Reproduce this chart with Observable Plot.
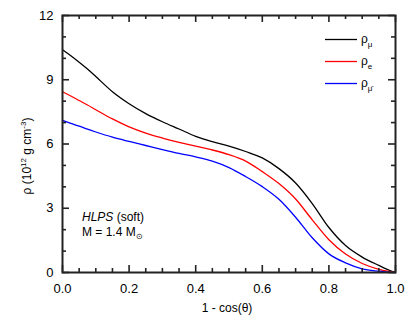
<!DOCTYPE html>
<html><head><meta charset="utf-8">
<script src="https://cdn.jsdelivr.net/npm/d3@7"></script>
<script src="https://cdn.jsdelivr.net/npm/@observablehq/plot@0.6"></script>
<style>body{margin:0;background:#fff} svg{display:block}</style>
</head><body><div id="chart"></div>
<script>
// 1 - cos(theta)
const xs = [0, 0.025, 0.05, 0.075, 0.1, 0.15, 0.2, 0.25, 0.3, 0.35, 0.4, 0.45, 0.5, 0.55, 0.6, 0.65, 0.7, 0.75, 0.8, 0.85, 0.9, 0.95, 0.975, 1.0];
// density, 10^12 g cm^-3
const rhoMu    = [10.40, 10.12, 9.82, 9.50, 9.15, 8.44, 7.88, 7.42, 7.04, 6.70, 6.36, 6.11, 5.90, 5.65, 5.35, 4.85, 4.18, 3.22, 2.10, 1.26, 0.72, 0.33, 0.15, 0];
const rhoE     = [8.44, 8.24, 8.03, 7.82, 7.60, 7.17, 6.80, 6.51, 6.28, 6.08, 5.90, 5.72, 5.50, 5.20, 4.71, 4.15, 3.43, 2.46, 1.53, 0.86, 0.42, 0.15, 0.06, 0];
const rhoMuBar = [7.10, 6.96, 6.83, 6.69, 6.56, 6.32, 6.12, 5.93, 5.74, 5.56, 5.40, 5.20, 4.90, 4.48, 4.01, 3.42, 2.58, 1.62, 0.87, 0.45, 0.17, 0.06, 0.02, 0];
const seriesKeys = ["mu", "e", "mubar"];
const seriesSubs = ["μ", "e", "μ̄"];
const seriesColors = ["#000000", "#ff0000", "#0000ff"];
const xMajor = [0, 0.2, 0.4, 0.6, 0.8, 1.0];
const xMinor = [0.05, 0.1, 0.15, 0.25, 0.3, 0.35, 0.45, 0.5, 0.55, 0.65, 0.7, 0.75, 0.85, 0.9, 0.95];
const yMajor = [0, 3, 6, 9, 12];
const yMinor = [1, 2, 4, 5, 7, 8, 10, 11];

const data = [];
[rhoMu, rhoE, rhoMuBar].forEach((arr, k) =>
  arr.forEach((v, i) => data.push({x: xs[i], y: v, s: seriesKeys[k]})));

const W = 415, H = 320, mL = 62, mR = 20, mT = 15, mB = 48;
const pw = W - mL - mR, ph = H - mT - mB;
const ink = "#222";
const font = "'Liberation Sans', Arial, Helvetica, sans-serif";
const tickStyle = {stroke: ink, strokeWidth: 1.6};
const MAJ = 7, MIN = 4;

const svg = Plot.plot({
  width: W, height: H,
  marginLeft: mL, marginRight: mR, marginTop: mT, marginBottom: mB,
  style: {fontFamily: font, fontSize: "13px", color: "#000", background: "#fff"},
  x: {domain: [0, 1]},
  y: {domain: [0, 12]},
  color: {domain: seriesKeys, range: seriesColors},
  marks: [
    Plot.line(data, {x: "x", y: "y", z: "s", stroke: "s", strokeWidth: 1.3, curve: "monotone-x"}),
    // tick labels
    Plot.axisX(xMajor, {anchor: "bottom", tickSize: 0, tickPadding: 11, tickFormat: d3.format(".1f"), label: null, stroke: "none", fontSize: 13}),
    Plot.axisY(yMajor, {anchor: "left", tickSize: 0, tickPadding: 9, tickFormat: d3.format("d"), label: null, stroke: "none", fontSize: 13}),
    // inward ticks on all four sides
    Plot.tickX(xMajor, {x: d => d, insetTop: ph - MAJ, ...tickStyle}),
    Plot.tickX(xMinor, {x: d => d, insetTop: ph - MIN, ...tickStyle}),
    Plot.tickX(xMajor, {x: d => d, insetBottom: ph - MAJ, ...tickStyle}),
    Plot.tickX(xMinor, {x: d => d, insetBottom: ph - MIN, ...tickStyle}),
    Plot.tickY(yMajor, {y: d => d, insetRight: pw - MAJ, ...tickStyle}),
    Plot.tickY(yMinor, {y: d => d, insetRight: pw - MIN, ...tickStyle}),
    Plot.tickY(yMajor, {y: d => d, insetLeft: pw - MAJ, ...tickStyle}),
    Plot.tickY(yMinor, {y: d => d, insetLeft: pw - MIN, ...tickStyle}),
    Plot.frame({stroke: ink, strokeWidth: 2})
  ]
});
document.getElementById("chart").appendChild(svg);

const root = d3.select(svg);
const txt = (sel) => sel.attr("font-family", font).attr("font-size", 12).attr("fill", "#000");
// axis titles
txt(root.append("text")).attr("x", 227).attr("y", 312).attr("text-anchor", "middle").text("1 - cos(θ)");
const yt = txt(root.append("text")).attr("transform", "translate(31,156) rotate(-90)").attr("text-anchor", "middle");
yt.append("tspan").text("ρ (10");
yt.append("tspan").attr("font-size", 8).attr("dy", -5).text("12");
yt.append("tspan").attr("dy", 5).text(" g cm");
yt.append("tspan").attr("font-size", 8).attr("dy", -5).text("-3");
yt.append("tspan").attr("dy", 5).text(")");

// legend
seriesKeys.forEach((k, i) => {
  const yy = 39.5 + i * 22;
  root.append("line").attr("x1", 325).attr("x2", 357).attr("y1", yy).attr("y2", yy)
    .attr("stroke", seriesColors[i]).attr("stroke-width", 1.3);
  const t = txt(root.append("text")).attr("x", 361).attr("y", yy + 3.5).attr("text-anchor", "start");
  t.append("tspan").text("ρ");
  t.append("tspan").attr("font-size", 8).attr("dy", 4).text(seriesSubs[i]);
});

// annotation
const a1 = txt(root.append("text")).attr("x", 82).attr("y", 221).attr("text-anchor", "start");
a1.append("tspan").attr("font-style", "italic").text("HLPS");
a1.append("tspan").text(" (soft)");
const a2 = txt(root.append("text")).attr("x", 82).attr("y", 236).attr("text-anchor", "start");
a2.append("tspan").text("M = 1.4 M");
a2.append("tspan").attr("font-size", 8).attr("dy", 3).text("⊙");
</script>
</body></html>
